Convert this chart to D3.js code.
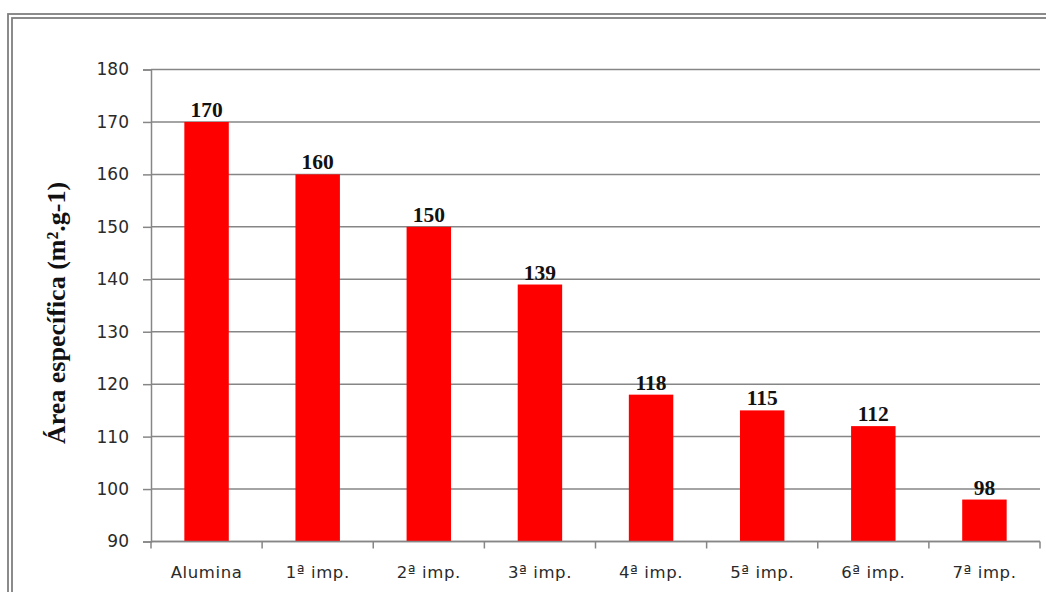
<!DOCTYPE html>
<html><head><meta charset="utf-8">
<script src="https://cdn.jsdelivr.net/npm/d3@7"></script>
<style>html,body{margin:0;padding:0;background:#fff;overflow:hidden}</style>
</head><body>
<svg id="c" width="1046" height="592"></svg>
<script>
const categories = ["Alumina","1ª imp.","2ª imp.","3ª imp.","4ª imp.","5ª imp.","6ª imp.","7ª imp."];
const values = [170,160,150,139,118,115,112,98];
const yTicks = [90,100,110,120,130,140,150,160,170,180];
const yLabel = "Área específica (m².g-1)";

const svg = d3.select("#c");
// double border
svg.append("rect").attr("x",8).attr("y",14).attr("width",1100).attr("height",700)
  .attr("fill","none").attr("stroke","#7f7f7f").attr("stroke-width",1.8);
svg.append("rect").attr("x",12).attr("y",18).attr("width",1100).attr("height",700)
  .attr("fill","none").attr("stroke","#7f7f7f").attr("stroke-width",1.8);

const L=151, R=1040, T=69.5, B=541.5;
const x = d3.scaleBand().domain(categories).range([L,R]).paddingInner(0.6).paddingOuter(0.3);
const xb = d3.scaleBand().domain(categories).range([L,R]);
const y = d3.scaleLinear().domain([90,180]).range([B,T]);

// gridlines
svg.append("g").selectAll("line").data(yTicks).join("line")
  .attr("x1",L).attr("x2",R).attr("y1",d=>y(d)).attr("y2",d=>y(d))
  .attr("stroke","#868686").attr("stroke-width",1.5);

// y axis
const ya = svg.append("g").attr("transform",`translate(${L},0)`)
  .call(d3.axisLeft(y).tickValues(yTicks).tickSize(8).tickPadding(14));
ya.select(".domain").attr("stroke","#868686").attr("stroke-width",1.5);
ya.selectAll(".tick line").attr("stroke","#868686").attr("stroke-width",1.5);
ya.selectAll(".tick text").attr("font-family","DejaVu Sans, Verdana, sans-serif")
  .attr("font-size",17).attr("fill","#2a2a2a");

// bars
svg.append("g").selectAll("rect").data(values).join("rect")
  .attr("x",(d,i)=>x(categories[i])).attr("width",x.bandwidth())
  .attr("y",d=>y(d)).attr("height",d=>B-y(d)).attr("fill","#ff0000");

// x axis
const xa = svg.append("g").attr("transform",`translate(0,${B})`)
  .call(d3.axisBottom(xb).tickSize(0).tickPadding(25));
xa.select(".domain").remove();
xa.selectAll(".tick text").attr("font-family","DejaVu Sans, Verdana, sans-serif")
  .attr("font-size",16.5).attr("letter-spacing",0.6).attr("fill","#2a2a2a");
// category boundary ticks
const bounds = categories.map(c=>xb(c)).concat([R]);
svg.append("g").selectAll("line").data(bounds).join("line")
  .attr("x1",d=>d).attr("x2",d=>d).attr("y1",B).attr("y2",B+7)
  .attr("stroke","#868686").attr("stroke-width",1.5);
svg.append("line").attr("x1",L).attr("x2",R).attr("y1",B).attr("y2",B)
  .attr("stroke","#868686").attr("stroke-width",1.5);

// value labels
svg.append("g").selectAll("text").data(values).join("text")
  .attr("x",(d,i)=>x(categories[i])+x.bandwidth()/2).attr("y",d=>y(d)-5)
  .attr("text-anchor","middle").attr("font-family","Liberation Serif, Times New Roman, serif")
  .attr("font-weight","bold").attr("font-size",21.5).attr("fill","#111").text(d=>d);

// y label
svg.append("text").attr("transform","translate(65,313) rotate(-90)")
  .attr("text-anchor","middle").attr("font-family","Liberation Serif, Times New Roman, serif")
  .attr("font-weight","bold").attr("font-size",26).attr("fill","#111").text(yLabel);
</script>
</body></html>
